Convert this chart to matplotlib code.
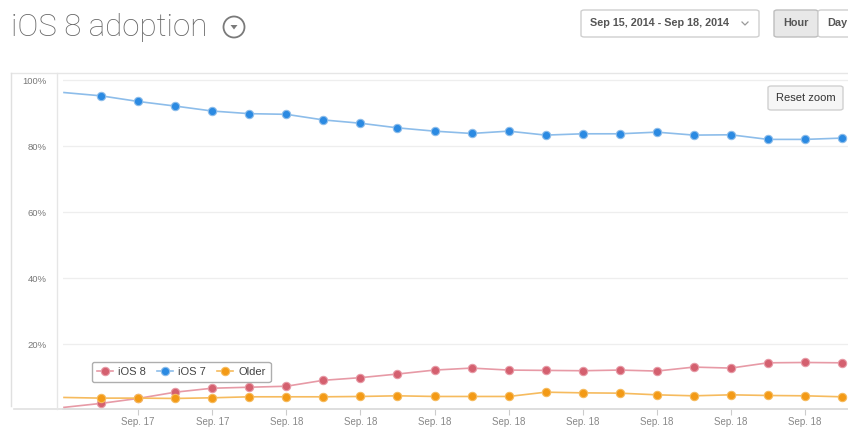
import matplotlib
matplotlib.use("Agg")
import matplotlib.pyplot as plt
from matplotlib.patches import FancyBboxPatch, Ellipse, Polygon
from matplotlib.lines import Line2D

# ---------------- data ----------------
series_names = ["iOS 8", "iOS 7", "Older"]
ios8 = [0.8, 2.0, 3.5, 5.4, 6.6, 6.9, 7.2, 9.0, 9.8, 10.9, 12.1, 12.7, 12.1,
        12.0, 11.9, 12.1, 11.8, 13.0, 12.7, 14.3, 14.4, 14.3]
ios7 = [96.2, 95.2, 93.5, 92.1, 90.6, 89.8, 89.6, 87.9, 86.9, 85.5, 84.5, 83.8,
        84.5, 83.3, 83.7, 83.7, 84.2, 83.3, 83.4, 82.0, 82.0, 82.4]
older = [3.8, 3.6, 3.6, 3.5, 3.7, 4.0, 4.0, 4.0, 4.1, 4.3, 4.1, 4.1, 4.1,
         5.4, 5.2, 5.1, 4.6, 4.3, 4.6, 4.4, 4.3, 4.0]
tick_positions = [2, 4, 6, 8, 10, 12, 14, 16, 18, 20]
tick_labels = ["Sep. 17", "Sep. 17", "Sep. 18", "Sep. 18", "Sep. 18",
               "Sep. 18", "Sep. 18", "Sep. 18", "Sep. 18", "Sep. 18"]
y_ticks = [20, 40, 60, 80, 100]
y_labels = ["20%", "40%", "60%", "80%", "100%"]

W, H = 848, 428
fig = plt.figure(figsize=(W / 100, H / 100), dpi=100)
fig.patch.set_facecolor("white")


def fx(x):
    return x / W


def fy(y):
    return 1 - y / H


SANS = ["Liberation Sans", "DejaVu Sans"]

# ---------------- axes ----------------
ax_l, ax_r, ax_t, ax_b = 63, 848, 73, 409
ax = fig.add_axes([fx(ax_l), fy(ax_b), (ax_r - ax_l) / W, (ax_b - ax_t) / H])
ax.set_facecolor("white")
step = 37.05
ax.set_xlim((ax_l - 64) / step, (ax_r - 64) / step)
ax.set_ylim((410 - ax_b) / 3.3, (410 - ax_t) / 3.3)

xs = list(range(len(ios7)))
styles = [
    (ios8, "#e79aa6", "#d4606f"),
    (ios7, "#8dbdea", "#2b8ae2"),
    (older, "#f6bb5e", "#f39a16"),
]
handles = []
for (vals, lc, mc), name in zip(styles, series_names):
    (h,) = ax.plot(xs, vals, color=lc, lw=1.2, marker="o", markersize=6,
                   markerfacecolor=mc, markeredgecolor=lc, markeredgewidth=0.8,
                   markevery=slice(1, None), label=name, zorder=3)
    handles.append(h)

ax.set_yticks(y_ticks)
ax.set_yticklabels(y_labels, fontsize=6.8, color="#777", family=SANS)
ax.tick_params(axis="y", length=0, pad=12)
ax.grid(axis="y", color="#eeeeee", lw=0.9)
ax.set_xticks(tick_positions)
ax.set_xticklabels(tick_labels, fontsize=7, color="#888", family=SANS)
ax.tick_params(axis="x", length=4, color="#cccccc", width=0.8, pad=1.5)
for s in ["top", "right", "left"]:
    ax.spines[s].set_visible(False)
ax.spines["bottom"].set_color("#d8d8d8")
ax.spines["bottom"].set_linewidth(1.2)

leg = ax.legend(handles=handles, loc="lower left",
                bbox_to_anchor=(fx(92), fy(382)), bbox_transform=fig.transFigure,
                borderaxespad=0, ncol=3, frameon=True, handlelength=1.4,
                handletextpad=0.5, columnspacing=1.0, borderpad=0.45,
                fancybox=True, prop={"family": SANS, "size": 8})
leg.get_frame().set_edgecolor("#9a9a9a")
leg.get_frame().set_linewidth(1.0)
for t in leg.get_texts():
    t.set_color("#444")

# ---------------- frame lines ----------------
fig.add_artist(Line2D([fx(11), fx(848)], [fy(72.5), fy(72.5)], color="#e6e6e6", lw=1.0))
fig.add_artist(Line2D([fx(11), fx(11)], [fy(72.5), fy(406)], color="#e0e0e0", lw=1.0))
fig.add_artist(Line2D([fx(14), fx(63)], [fy(409), fy(409)], color="#e0e0e0", lw=1.2))
fig.add_artist(Line2D([fx(57), fx(57)], [fy(72.5), fy(409)], color="#e6e6e6", lw=1.0))

# ---------------- title ----------------
fig.text(fx(11), fy(28), "iOS 8 adoption", fontsize=22.5, fontweight="light",
         family=["Roboto", "DejaVu Sans"], color="#666666",
         va="center", ha="left")
fig.add_artist(Ellipse((fx(234), fy(27)), 21 / W, 21 / H, fill=False,
                       edgecolor="#7a7a7a", lw=1.3))
fig.add_artist(Polygon([(fx(230.5), fy(25)), (fx(237.5), fy(25)), (fx(234), fy(29.5))],
                       closed=True, facecolor="#7a7a7a", edgecolor="none"))


# ---------------- controls ----------------
def box(x0, y0, x1, y1, fc, ec):
    p = FancyBboxPatch((fx(x0), fy(y1)), (x1 - x0) / W, (y1 - y0) / H,
                       boxstyle="round,pad=0,rounding_size=0.004",
                       transform=fig.transFigure, facecolor=fc, edgecolor=ec,
                       lw=1.0)
    fig.add_artist(p)


box(581, 10, 759, 37, "white", "#cfcfcf")
fig.text(fx(590), fy(23.5), "Sep 15, 2014 - Sep 18, 2014", fontsize=7.8,
         fontweight="bold", family=SANS, color="#555", va="center", ha="left")
fig.add_artist(Line2D([fx(742), fx(745), fx(748)], [fy(22), fy(25), fy(22)],
                      color="#999", lw=0.9))
box(774, 10, 818, 37, "#e8e8e8", "#bdbdbd")
fig.text(fx(796), fy(23.5), "Hour", fontsize=7.8, fontweight="bold", family=SANS,
         color="#555", va="center", ha="center")
box(818, 10, 852, 37, "white", "#cfcfcf")
fig.text(fx(827), fy(23.5), "Day", fontsize=7.8, fontweight="bold", family=SANS,
         color="#555", va="center", ha="left")

box(768, 86, 843, 110, "#f6f6f6", "#d0d0d0")
fig.text(fx(805.5), fy(98), "Reset zoom", fontsize=8, family=SANS,
         color="#333", va="center", ha="center")

fig.savefig("out.png", dpi=100, facecolor="white")
